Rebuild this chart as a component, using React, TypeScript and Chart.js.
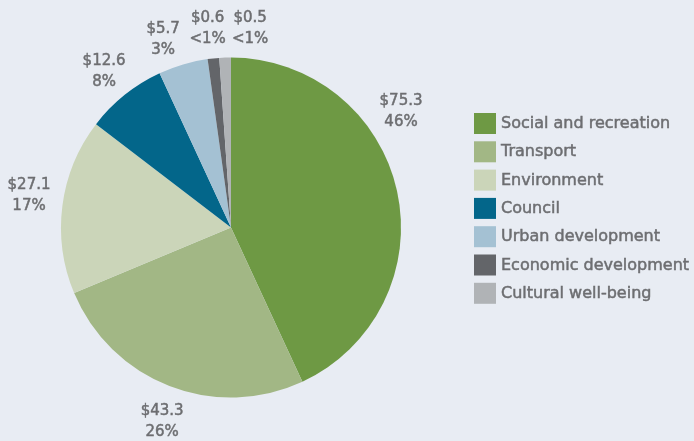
import React, { useEffect, useRef } from "react";
import { Chart, registerables } from "chart.js";

Chart.register(...registerables);

const categories = [
  "Social and recreation",
  "Transport",
  "Environment",
  "Council",
  "Urban development",
  "Economic development",
  "Cultural well-being",
];
// Dollar amounts shown on the labels
const amountLabels = ["$75.3", "$43.3", "$27.1", "$12.6", "$5.7", "$0.6", "$0.5"];
const percentLabels = ["46%", "26%", "17%", "8%", "3%", "<1%", "<1%"];
// Slice shares as drawn in the picture (percent of the circle)
const sliceShares = [43.1, 25.6, 16.7, 7.7, 4.7, 1.1, 1.1];
const colors = ["#6e9944", "#a2b785", "#cbd5b9", "#03668a", "#a4c1d3", "#636569", "#b0b3b6"];

// label placement (angle clockwise from top in degrees, distance from centre in px)
const labelAngles = [55.7, 199.5, 279, 320.8, 340.1, 353.3, 5.5];
const labelDist = [205.8, 206.4, 204.5, 200.8, 199.4, 200.4, 199.9];

const TEXT = "#6d6e71";
const LABEL_FONT = '15px "DejaVu Sans"';
const LEGEND_FONT = '16px "DejaVu Sans"';
const BG = "#e8ecf3";

function heavyText(ctx: CanvasRenderingContext2D, s: string, x: number, y: number) {
  ctx.fillText(s, x, y);
  ctx.strokeText(s, x, y);
}

export default function App() {
  const ref = useRef<HTMLCanvasElement | null>(null);
  useEffect(() => {
    document.body.style.margin = "0";
    const canvas = ref.current!;
    const labelsPlugin = {
      id: "extras",
      afterDraw(chart: any) {
        const ctx = chart.ctx;
        const meta = chart.getDatasetMeta(0);
        const arc0: any = meta.data[0];
        const cx = arc0.x;
        const cy = arc0.y;
        ctx.save();
        ctx.fillStyle = TEXT;
        ctx.strokeStyle = TEXT;
        ctx.lineWidth = 0.5;
        ctx.font = LABEL_FONT;
        ctx.textAlign = "center";
        ctx.textBaseline = "middle";
        for (let i = 0; i < categories.length; i++) {
          const a = (labelAngles[i] * Math.PI) / 180;
          const x = cx + Math.sin(a) * labelDist[i];
          const y = cy - Math.cos(a) * labelDist[i];
          heavyText(ctx, amountLabels[i], x, y - 10.5);
          heavyText(ctx, percentLabels[i], x, y + 10.5);
        }
        // legend
        const lx = 474;
        const ly = 113;
        const step = 28.3;
        ctx.font = LEGEND_FONT;
        ctx.textAlign = "left";
        for (let i = 0; i < categories.length; i++) {
          const y = ly + i * step;
          ctx.fillStyle = colors[i];
          ctx.fillRect(lx, y, 22, 21);
          ctx.fillStyle = TEXT;
          heavyText(ctx, categories[i], 501, y + 11);
        }
        ctx.restore();
      },
    };
    const chart = new Chart(canvas, {
      type: "pie",
      data: {
        labels: categories,
        datasets: [
          {
            data: sliceShares,
            backgroundColor: colors,
            borderWidth: 0,
          },
        ],
      },
      options: {
        animation: false,
        responsive: false,
        layout: { padding: { left: 61, right: 293, top: 57, bottom: 43 } },
        plugins: {
          legend: { display: false },
          tooltip: { enabled: false },
        },
      },
      plugins: [labelsPlugin],
    });
    return () => chart.destroy();
  }, []);
  return (
    <div style={{ width: 694, height: 441, background: BG, position: "relative" }}>
      <canvas ref={ref} width={694} height={441} style={{ display: "block" }} />
    </div>
  );
}
